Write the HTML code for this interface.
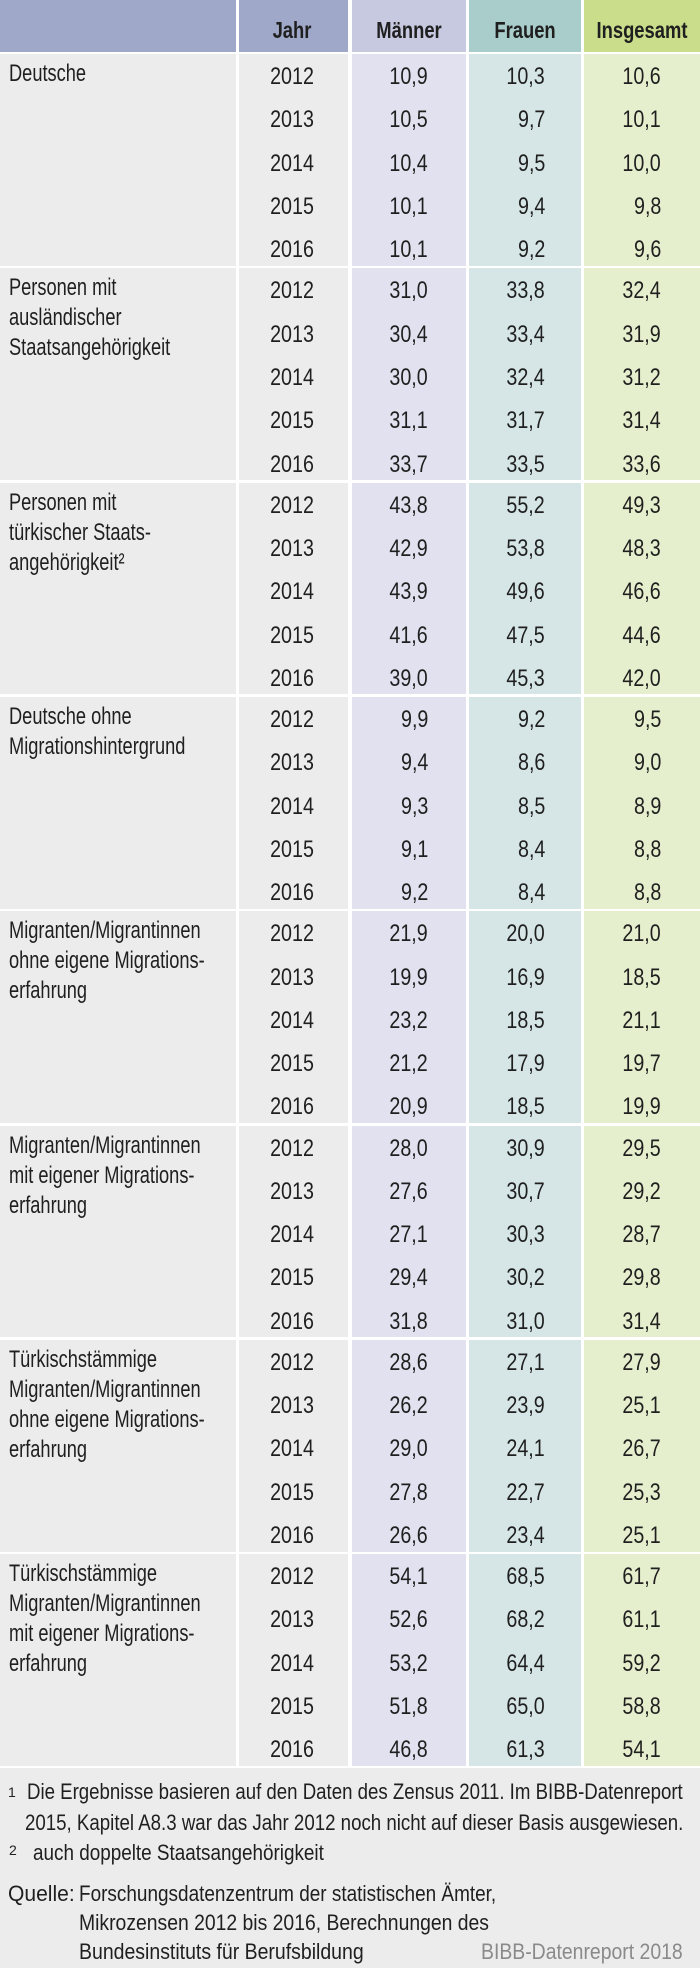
<!DOCTYPE html>
<html><head><meta charset="utf-8">
<style>
body{margin:0;width:700px;height:1968px;background:#fff;font-family:"Liberation Sans",sans-serif;color:#1f1f1f;position:relative;overflow:hidden}
.c{position:absolute;box-sizing:border-box}
.t{position:absolute;font-size:24px;line-height:30px;white-space:nowrap;transform:scaleX(0.82)}
.l{transform-origin:left center;transform:scaleX(0.76)}
.r{transform-origin:right center}
.m{transform-origin:center center}
.h{font-weight:bold;font-size:23px;transform:scaleX(0.8)}
.foot{position:absolute;left:0;top:1768px;width:700px;height:200px;background:#ececec}
.fl{position:absolute;font-size:22px;line-height:28px;white-space:nowrap;transform-origin:left center}
</style></head><body>
<div id="tbl"></div>
<div class="foot">
<div class="fl" style="left:8px;top:10px;font-size:14px">1</div>
<div class="fl" data-w="656" style="left:27px;top:10px">Die Ergebnisse basieren auf den Daten des Zensus 2011. Im BIBB-Datenreport</div>
<div class="fl" data-w="658" style="left:25px;top:41px">2015, Kapitel A8.3 war das Jahr 2012 noch nicht auf dieser Basis ausgewiesen.</div>
<div class="fl" style="left:9px;top:68px;font-size:14px">2</div>
<div class="fl" data-w="291" style="left:33px;top:71px">auch doppelte Staatsangehörigkeit</div>
<div class="fl" data-w="67" style="left:8px;top:112px">Quelle:</div>
<div class="fl" data-w="417" style="left:79px;top:112px">Forschungsdatenzentrum der statistischen Ämter,</div>
<div class="fl" data-w="410" style="left:79px;top:141px">Mikrozensen 2012 bis 2016, Berechnungen des</div>
<div class="fl" data-w="285" style="left:79px;top:170px">Bundesinstituts für Berufsbildung</div>
<div class="fl" data-w="202" style="left:481px;top:170px;color:#8a8a8a">BIBB-Datenreport 2018</div>
</div>
<script>
const groups=[["Deutsche"],["Personen mit","ausländischer","Staatsangehörigkeit"],["Personen mit","türkischer Staats-","angehörigkeit²"],["Deutsche ohne","Migrationshintergrund"],["Migranten/Migrantinnen","ohne eigene Migrations-","erfahrung"],["Migranten/Migrantinnen","mit eigener Migrations-","erfahrung"],["Türkischstämmige","Migranten/Migrantinnen","ohne eigene Migrations-","erfahrung"],["Türkischstämmige","Migranten/Migrantinnen","mit eigener Migrations-","erfahrung"]];
const years=["2012","2013","2014","2015","2016"];
const maenner=[[10.9,10.5,10.4,10.1,10.1],[31.0,30.4,30.0,31.1,33.7],[43.8,42.9,43.9,41.6,39.0],[9.9,9.4,9.3,9.1,9.2],[21.9,19.9,23.2,21.2,20.9],[28.0,27.6,27.1,29.4,31.8],[28.6,26.2,29.0,27.8,26.6],[54.1,52.6,53.2,51.8,46.8]];
const frauen=[[10.3,9.7,9.5,9.4,9.2],[33.8,33.4,32.4,31.7,33.5],[55.2,53.8,49.6,47.5,45.3],[9.2,8.6,8.5,8.4,8.4],[20.0,16.9,18.5,17.9,18.5],[30.9,30.7,30.3,30.2,31.0],[27.1,23.9,24.1,22.7,23.4],[68.5,68.2,64.4,65.0,61.3]];
const insgesamt=[[10.6,10.1,10.0,9.8,9.6],[32.4,31.9,31.2,31.4,33.6],[49.3,48.3,46.6,44.6,42.0],[9.5,9.0,8.9,8.8,8.8],[21.0,18.5,21.1,19.7,19.9],[29.5,29.2,28.7,29.8,31.4],[27.9,25.1,26.7,25.3,25.1],[61.7,61.1,59.2,58.8,54.1]];
const T=document.getElementById('tbl');
const cols=[{x:0,w:236,hb:'#9fa8c8',b:'#ececec'},{x:239,w:109,hb:'#9fa8c8',b:'#ececec'},{x:352,w:114,hb:'#c6c9e0',b:'#e1e1ef'},{x:469,w:112,hb:'#a9cdcb',b:'#d6e6e6'},{x:584,w:116,hb:'#c9dd8a',b:'#e6efcd'}];
const fmt=v=>v.toFixed(1).replace('.',',');
const H0=52,RH=43.3,GH=214.3;
function box(x,y,w,h,bg,name){const d=document.createElement('div');d.className='c';d.style.cssText=`left:${x}px;top:${y}px;width:${w}px;height:${h}px;background:${bg}`;


T.appendChild(d);return d;}
function txt(s,x,cy,align,cls,name){const d=document.createElement('div');d.className='t '+(cls||'')+' '+align;d.textContent=s;
if(align==='r'){d.style.right=(700-x)+'px';}else if(align==='m'){d.style.left=(x-80)+'px';d.style.width='160px';d.style.textAlign='center';}else d.style.left=x+'px';
d.style.top=(cy-15)+'px';


T.appendChild(d);}
cols.forEach((c,i)=>{box(c.x,0,c.w,H0,c.hb,'header-cell-'+i);});
txt("Jahr",292,30,'m','h','header-jahr');txt("Männer",409,30,'m','h','header-maenner');txt("Frauen",525,30,'m','h','header-frauen');txt("Insgesamt",642,30,'m','h','header-insgesamt');
groups.forEach((g,gi)=>{const y=H0+2+gi*GH;
cols.forEach((c,i)=>box(c.x,y,c.w,GH-2.5,c.b,'group-'+gi+'-col-'+i));
g.forEach((l,li)=>txt(l,9,y+20+li*30,'l','','group-label-'+gi));
years.forEach((yr,ri)=>{const cy=y+23+ri*RH;
txt(yr,292,cy,'m','','year-'+gi+'-'+ri);
txt(fmt(maenner[gi][ri]),428,cy,'r','','maenner-'+gi+'-'+ri);
txt(fmt(frauen[gi][ri]),545,cy,'r','','frauen-'+gi+'-'+ri);
txt(fmt(insgesamt[gi][ri]),661,cy,'r','','insgesamt-'+gi+'-'+ri);});
});
document.querySelectorAll('.fl[data-w]').forEach(e=>{const w=e.offsetWidth;if(w)e.style.transform='scaleX('+(+e.getAttribute('data-w')/w)+')';});
</script>
</body></html>
